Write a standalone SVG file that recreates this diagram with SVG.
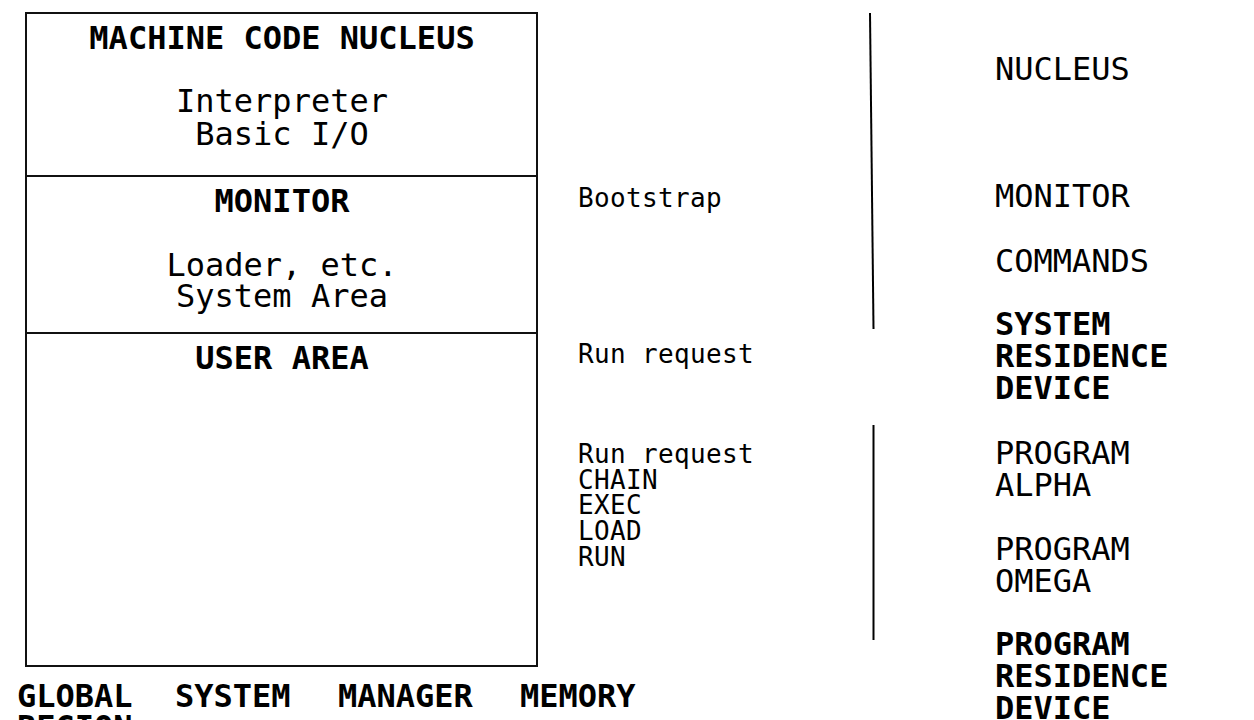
<svg xmlns="http://www.w3.org/2000/svg" width="1254" height="720" viewBox="0 0 1254 720">
  <style>
    text { font-family: "DejaVu Sans Mono", "Liberation Mono", monospace; fill: #000; }
    .big { font-size: 32px; }
    .mid { font-size: 26px; letter-spacing: 0.35px; }
    .b { font-weight: bold; }
    .c { text-anchor: middle; }
    .box { fill: #fff; stroke: #111; stroke-width: 2; }
    .div { stroke: #111; stroke-width: 2; fill: none; }
    .conn { stroke: #000; stroke-width: 2; fill: none; }
  </style>
  <rect width="1254" height="720" fill="#fff"/>

  <g id="memory-map">
    <rect class="box" x="26" y="13" width="511" height="653"/>
    <line class="div" x1="26" y1="176" x2="537" y2="176"/>
    <line class="div" x1="26" y1="333" x2="537" y2="333"/>
  </g>

  <g id="nucleus-section">
    <text class="big b c" x="282" y="49">MACHINE CODE NUCLEUS</text>
    <text class="big c" x="282" y="112">Interpreter</text>
    <text class="big c" x="282" y="145">Basic I/O</text>
  </g>

  <g id="monitor-section">
    <text class="big b c" x="282" y="212">MONITOR</text>
    <text class="big c" x="282" y="276">Loader, etc.</text>
    <text class="big c" x="282" y="307">System Area</text>
  </g>

  <g id="user-area-section">
    <text class="big b c" x="282" y="369">USER AREA</text>
  </g>

  <g id="caption">
    <text class="big b" y="707"><tspan x="17">GLOBAL</tspan><tspan x="175">SYSTEM</tspan><tspan x="338">MANAGER</tspan><tspan x="520">MEMORY</tspan></text>
    <text class="big b" x="17" y="738">REGION</text>
  </g>

  <g id="label-bootstrap">
    <text class="mid" x="578" y="207">Bootstrap</text>
  </g>
  <g id="label-run-request-1">
    <text class="mid" x="578" y="363">Run request</text>
  </g>
  <g id="label-run-request-2">
    <text class="mid" x="578" y="463">Run request</text>
    <text class="mid" x="578" y="489">CHAIN</text>
    <text class="mid" x="578" y="514">EXEC</text>
    <text class="mid" x="578" y="540">LOAD</text>
    <text class="mid" x="578" y="566">RUN</text>
  </g>

  <g id="right-nucleus">
    <text class="big" x="995" y="80">NUCLEUS</text>
  </g>
  <g id="right-monitor">
    <text class="big" x="995" y="207">MONITOR</text>
  </g>
  <g id="right-commands">
    <text class="big" x="995" y="272">COMMANDS</text>
  </g>
  <g id="system-residence-device">
    <text class="big b" x="995" y="335">SYSTEM</text>
    <text class="big b" x="995" y="367">RESIDENCE</text>
    <text class="big b" x="995" y="399">DEVICE</text>
  </g>
  <g id="program-alpha">
    <text class="big" x="995" y="464">PROGRAM</text>
    <text class="big" x="995" y="496">ALPHA</text>
  </g>
  <g id="program-omega">
    <text class="big" x="995" y="560">PROGRAM</text>
    <text class="big" x="995" y="592">OMEGA</text>
  </g>
  <g id="program-residence-device">
    <text class="big b" x="995" y="655">PROGRAM</text>
    <text class="big b" x="995" y="687">RESIDENCE</text>
    <text class="big b" x="995" y="719">DEVICE</text>
  </g>

  <g id="connectors">
    <line class="conn" x1="870" y1="13" x2="873.5" y2="329"/>
    <line class="conn" x1="873.5" y1="425" x2="873.5" y2="640"/>
  </g>
</svg>
